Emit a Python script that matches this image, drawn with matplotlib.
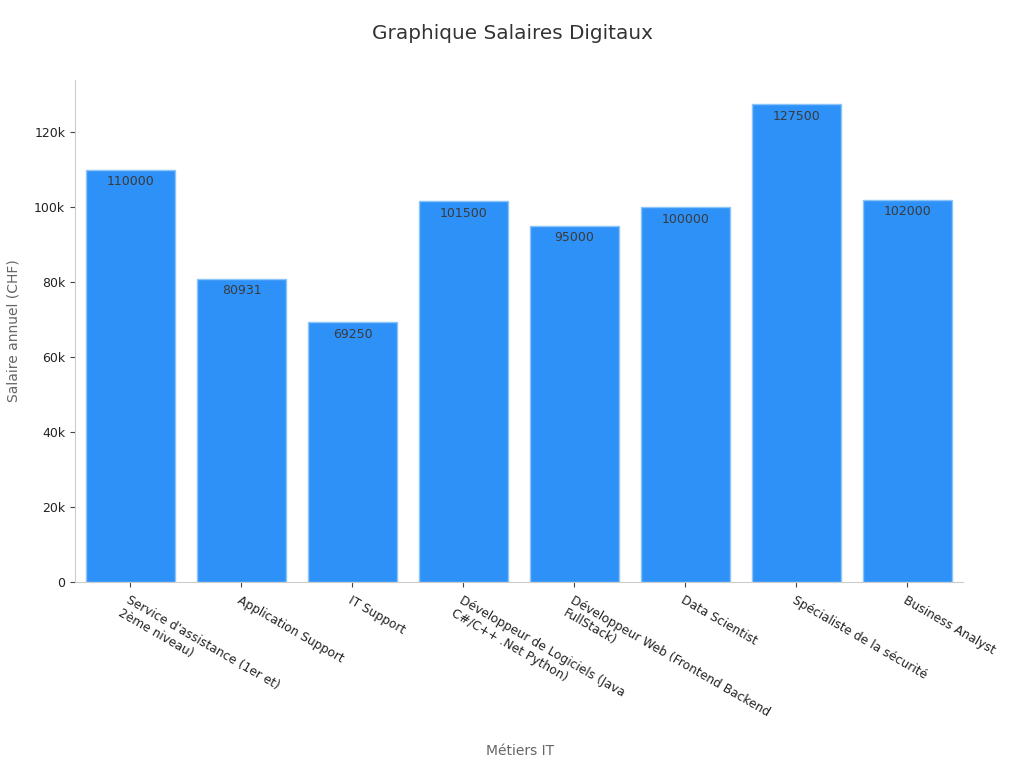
import matplotlib.pyplot as plt
from matplotlib.ticker import FuncFormatter

metiers = ["Service d'assistance (1er et)\n2ème niveau)", "Application Support", "IT Support",
           "Développeur de Logiciels (Java\nC#/C++ .Net Python)", "Développeur Web (Frontend Backend\nFullStack)",
           "Data Scientist", "Spécialiste de la sécurité", "Business Analyst"]
salaires = [110000, 80931, 69250, 101500, 95000, 100000, 127500, 102000]

fig = plt.figure(figsize=(10.24, 7.68), dpi=100)
ax = fig.add_axes([0.0732, 0.2422, 0.8672, 0.6536])

bars = ax.bar(range(len(metiers)), salaires, width=0.8, color='#2e91f8', edgecolor='#8cc4f8', linewidth=1)
for b, v in zip(bars, salaires):
    ax.text(b.get_x() + b.get_width() / 2, v - 1500, str(v), ha='center', va='top', fontsize=9, color='#3a3a3a')

ax.set_xlim(-0.5, len(metiers) - 0.5)
ax.set_ylim(0, 133900)
ax.set_yticks(range(0, 130000, 20000))
ax.yaxis.set_major_formatter(FuncFormatter(lambda v, p: '0' if v == 0 else '%dk' % (v / 1000)))
ax.set_xticks(range(len(metiers)))
ax.set_xticklabels(metiers, rotation=-30, ha='left', va='top', rotation_mode='anchor', fontsize=8.8, color='#222222')
ax.tick_params(axis='y', labelsize=9, labelcolor='#222222', color='#444444')
ax.tick_params(axis='x', color='#444444', pad=5)

for s in ['top', 'right']:
    ax.spines[s].set_visible(False)
for s in ['left', 'bottom']:
    ax.spines[s].set_color('#cccccc')

ax.set_ylabel('Salaire annuel (CHF)', fontsize=10, color='#666666', labelpad=10)
fig.text(0.508, 0.013, 'Métiers IT', ha='center', va='bottom', fontsize=10, color='#666666')
fig.text(0.5, 0.956, 'Graphique Salaires Digitaux', ha='center', va='center', fontsize=14.4, color='#333333')

fig.savefig('out.png', dpi=100)
